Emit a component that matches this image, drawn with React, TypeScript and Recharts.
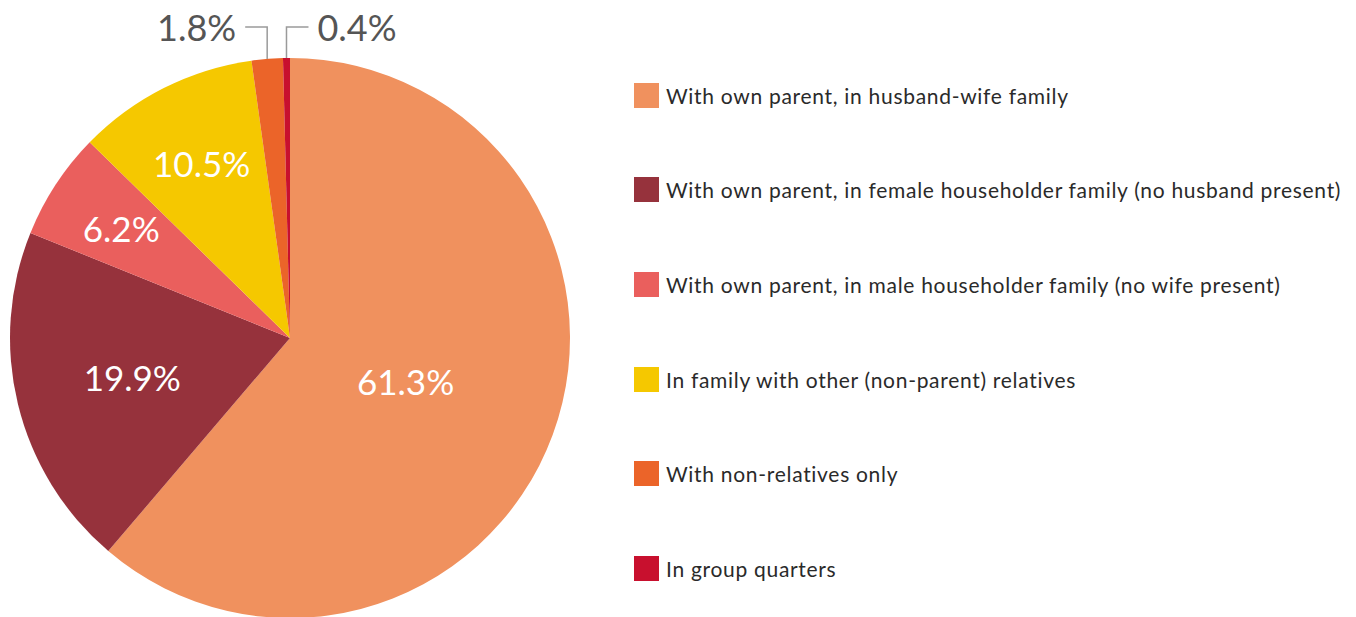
import { PieChart, Pie, Cell } from "recharts";

const CATEGORIES = [
  "With own parent, in husband-wife family",
  "With own parent, in female householder family (no husband present)",
  "With own parent, in male householder family (no wife present)",
  "In family with other (non-parent) relatives",
  "With non-relatives only",
  "In group quarters",
];
const SHARES = [61.3, 19.9, 6.2, 10.5, 1.8, 0.4];
const COLORS = ["#F0915E", "#96323C", "#EA5F5D", "#F5C800", "#EB6429", "#C8102E"];
const LABEL_RADIUS = [0.44, 0.58, 0.72, 0.7, 0, 0];

const DATA = CATEGORIES.map((name, i) => ({ name, value: SHARES[i] }));

const RAD = Math.PI / 180;
const FONT = "Lato, 'Noto Sans', sans-serif";

function renderLabel(props: any) {
  const { cx, cy, midAngle, outerRadius, index, value } = props;
  const text = `${value.toFixed(1)}%`;
  if (index >= 4) {
    // small slices: leader line up and out
    const x = cx + outerRadius * Math.cos(-midAngle * RAD);
    const y = cy + outerRadius * Math.sin(-midAngle * RAD);
    const topY = cy - outerRadius - 31;
    const dir = index === 4 ? -1 : 1;
    const endX = x + dir * 22;
    return (
      <g key={`lbl-${index}`}>
        <polyline
          points={`${x},${y} ${x},${topY} ${endX},${topY}`}
          fill="none"
          stroke="#9a9a9a"
          strokeWidth={1.5}
        />
        <text
          x={endX + dir * 9}
          y={topY}
          textAnchor={dir < 0 ? "end" : "start"}
          dominantBaseline="central"
          fill="#555"
          fontSize={36}
          fontFamily={FONT}
        >
          {text}
        </text>
      </g>
    );
  }
  const r = outerRadius * LABEL_RADIUS[index];
  const x = cx + r * Math.cos(-midAngle * RAD);
  const y = cy + r * Math.sin(-midAngle * RAD);
  return (
    <text
      key={`lbl-${index}`}
      x={x}
      y={y}
      textAnchor="middle"
      dominantBaseline="central"
      fill="#fff"
      fontSize={35}
      fontFamily={FONT}
    >
      {text}
    </text>
  );
}

function LegendList() {
  return (
    <div style={{ position: "absolute", left: 634, top: 48, fontFamily: FONT }}>
      {CATEGORIES.map((name, i) => (
        <div key={name} style={{ display: "flex", alignItems: "center", height: 94.6 }}>
          <span
            style={{
              width: 25,
              height: 25,
              background: COLORS[i],
              marginRight: 7,
              flexShrink: 0,
            }}
          />
          <span style={{ fontSize: 21, color: "#2a2a2a", whiteSpace: "nowrap", letterSpacing: 0.7 }}>
            {name}
          </span>
        </div>
      ))}
    </div>
  );
}

export default function App() {
  return (
    <div style={{ position: "absolute", left: 0, top: 0, width: 1356, height: 617, background: "#fff" }}>
      <PieChart width={1356} height={617} margin={{ top: 0, right: 0, bottom: 0, left: 0 }}>
        <Pie
          data={DATA}
          dataKey="value"
          nameKey="name"
          cx={290}
          cy={338}
          outerRadius={280}
          startAngle={90}
          endAngle={-270}
          stroke="none"
          label={renderLabel}
          labelLine={false}
          isAnimationActive={false}
        >
          {DATA.map((d, i) => (
            <Cell key={d.name} fill={COLORS[i]} />
          ))}
        </Pie>
      </PieChart>
      <LegendList />
    </div>
  );
}
